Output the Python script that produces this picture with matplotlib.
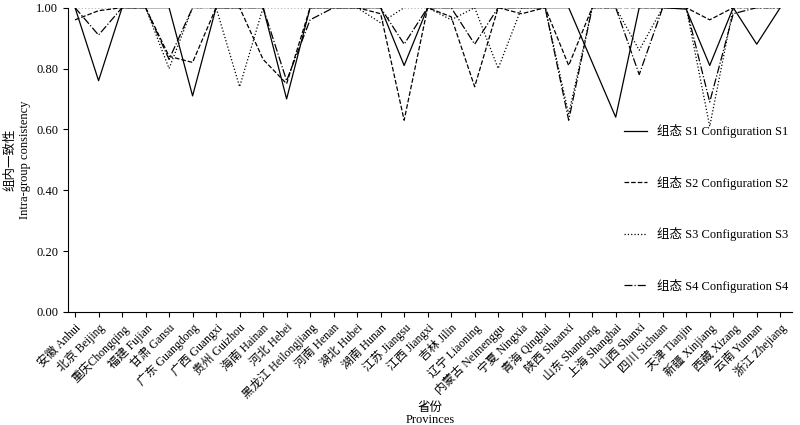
import matplotlib
matplotlib.use("Agg")
import matplotlib.pyplot as plt

plt.rcParams['font.family'] = ['Liberation Serif', 'Noto Sans CJK SC']

provinces = ["安徽 Anhui","北京 Beijing","重庆Chongqing","福建 Fujian","甘肃 Gansu","广东 Guangdong","广西 Guangxi","贵州 Guizhou","海南 Hainan","河北 Hebei","黑龙江 Heilongjiang","河南 Henan","湖北 Hubei","湖南 Hunan","江苏 Jiangsu","江西 Jiangxi","吉林 Jilin","辽宁 Liaoning","内蒙古 Neimenggu","宁夏 Ningxia","青海 Qinghai","陕西 Shaanxi","山东 Shandong","上海 Shanghai","山西 Shanxi","四川 Sichuan","天津 Tianjin","新疆 Xinjiang","西藏 Xizang","云南 Yunnan","浙江 Zhejiang"]
s1 = [1,0.76,1,1,1,0.71,1,1,1,0.70,1,1,1,1,0.81,1,1,1,1,1,1,1,0.82,0.64,1,1,0.995,0.81,1,0.88,1]
s2 = [0.96,0.99,1,1,0.84,0.82,1,1,0.83,0.75,1,1,1,0.98,0.63,1,0.97,0.74,1,0.98,1,0.81,1,1,1,1,1,0.96,1,1,1]
s3 = [1,1,1,1,0.80,1,1,0.74,1,1,1,1,1,0.95,1,1,0.96,1,0.80,1,1,0.65,1,1,0.86,1,1,0.61,1,1,1]
s4 = [1,0.91,1,1,0.83,1,1,1,1,0.76,0.96,1,1,1,0.88,1,1,0.88,1,1,1,0.63,1,1,0.78,1,1,0.69,0.98,1,1]
labels = ["组态 S1 Configuration S1","组态 S2 Configuration S2","组态 S3 Configuration S3","组态 S4 Configuration S4"]

fig = plt.figure(figsize=(8, 4.25), dpi=100)
ax = fig.add_axes([0.085, 0.266, 0.905, 0.716])
x = range(len(provinces))
for s, ls, lab in zip([s1, s2, s3, s4], ['-', '--', ':', '-.'], labels):
    ax.plot(x, s, color='black', linestyle=ls, linewidth=0.9, label=lab)
ax.set_ylim(0, 1.0)
ax.set_xlim(-0.3, 30.5)
ax.set_yticks([0, 0.2, 0.4, 0.6, 0.8, 1.0])
ax.set_yticklabels(["0.00","0.20","0.40","0.60","0.80","1.00"], fontsize=9)
ax.set_xticks(list(x))
ax.set_xticklabels(provinces, rotation=45, ha='right', rotation_mode='anchor', fontsize=8.5)
for sp in ['top', 'right']:
    ax.spines[sp].set_visible(False)
ax.set_ylabel("组内一致性\nIntra-group consistency", fontsize=9)
ax.set_xlabel("省份\nProvinces", fontsize=9, labelpad=0, linespacing=1.0)
ax.legend(loc='center right', bbox_to_anchor=(1.01, 0.34), frameon=False, fontsize=9, labelspacing=3.0, handlelength=1.8)
fig.savefig("out.png", dpi=100)
